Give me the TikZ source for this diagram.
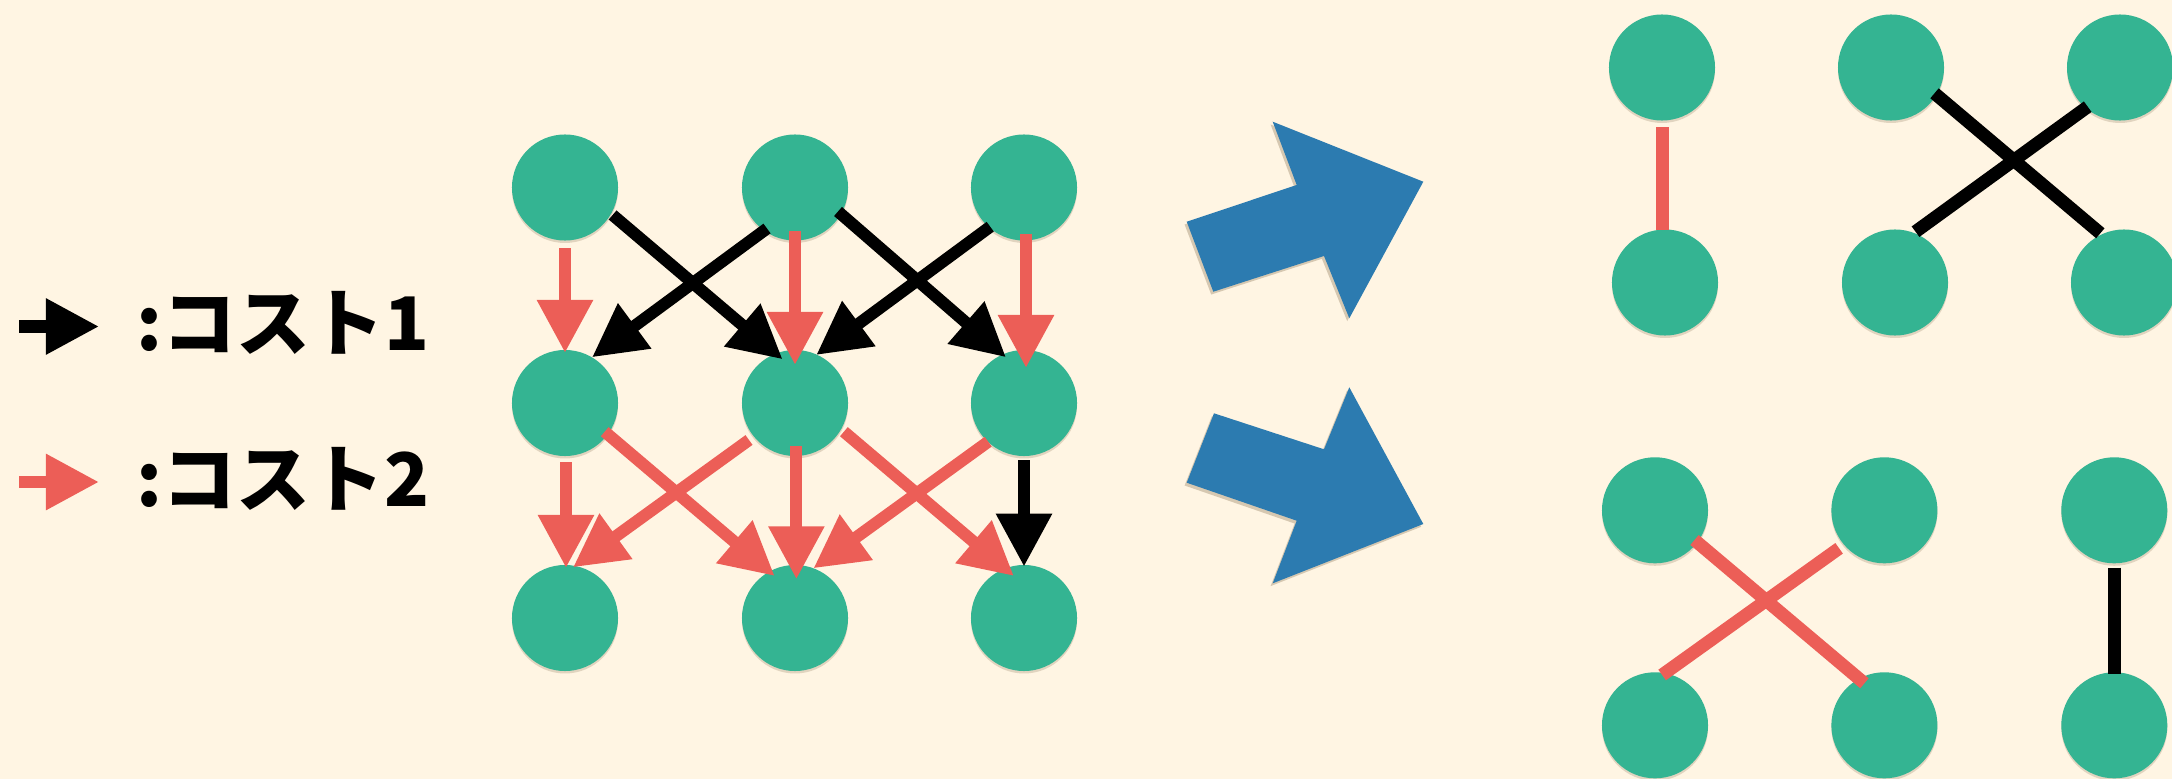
\documentclass[tikz,border=0pt]{standalone}
\usepackage{fontspec}
\newfontfamily\jp{Noto Sans CJK JP}
\usetikzlibrary{arrows.meta,calc}
\definecolor{bg}{HTML}{FFF5E3}
\definecolor{grn}{HTML}{34B492}
\definecolor{rd}{HTML}{EC5E57}
\definecolor{bl}{HTML}{2C7BB0}
\definecolor{shd}{HTML}{7A6040}
\newcommand\legfont{\jp\bfseries\fontsize{21pt}{25pt}\selectfont}
\begin{document}
\begin{tikzpicture}[x=0.01cm,y=-0.01cm,
  dot/.style={circle,fill=grn,minimum size=1.06cm,inner sep=0pt,
    preaction={fill=shd,opacity=0.22,transform canvas={yshift=-0.7pt}}},
  tipstyle/.style={-{Triangle[length=0.53cm,width=0.53cm]}},
  cb/.style={draw=black,color=black,line width=0.12cm,tipstyle},
  cr/.style={draw=rd,color=rd,line width=0.12cm,tipstyle},
  eb/.style={draw=black,line width=0.13cm},
  er/.style={draw=rd,line width=0.13cm},
  legtext/.style={anchor=base west,inner sep=0pt},
  bigarrow/.style={fill=bl,preaction={fill=shd,opacity=0.3,transform canvas={xshift=-0.6pt,yshift=-0.8pt}}}]
\fill[bg] (0,0) rectangle (2172,779);
\useasboundingbox (0,0) rectangle (2172,779);

% legend
\coordinate (lb0) at (19,326.5);
\coordinate (lb1) at (99,326.5);
\coordinate (lr0) at (19,482);
\coordinate (lr1) at (99,482);
\draw[cb] (lb0) -- (lb1);
\draw[cr] (lr0) -- (lr1);
\node[legtext] (t1) at (136,350.7) {\legfont :コスト1};
\node[legtext] (t2) at (136,506) {\legfont :コスト2};

% grid
\node[dot] (a11) at (565,187.5) {};
\node[dot] (a12) at (795,187.5) {};
\node[dot] (a13) at (1024,187.5) {};
\node[dot] (a21) at (565,403) {};
\node[dot] (a22) at (795,403) {};
\node[dot] (a23) at (1024,403) {};
\node[dot] (a31) at (565,618) {};
\node[dot] (a32) at (795,618) {};
\node[dot] (a33) at (1024,618) {};

\draw[cr] ($(a11)+(0,61)$) -- ($(a21)+(0,-50)$);
\draw[cr] ($(a12)+(0,44)$) -- ($(a22)+(0,-38)$);
\draw[cr] ($(a13)+(2,47)$) -- ($(a23)+(2,-35)$);
\draw[cb] ($(a11)+(47.6,27.5)$) -- ($(a22)+(-12.4,-43.7)$);
\draw[cb] ($(a12)+(-28,41)$) -- ($(a21)+(27,-45.7)$);
\draw[cb] ($(a12)+(43,24)$) -- ($(a23)+(-18,-45.7)$);
\draw[cb] ($(a13)+(-33.8,39.2)$) -- ($(a22)+(21.2,-48)$);
\draw[cr] ($(a21)+(1,59)$) -- ($(a31)+(1,-50)$);
\draw[cr] ($(a21)+(39.7,28.7)$) -- ($(a32)+(-20.3,-42)$);
\draw[cr] ($(a22)+(-46,37)$) -- ($(a31)+(8,-50.7)$);
\draw[cr] ($(a22)+(1.4,43)$) -- ($(a32)+(1.4,-38.7)$);
\draw[cr] ($(a22)+(48.9,28.7)$) -- ($(a33)+(-10.1,-42)$);
\draw[cr] ($(a23)+(-35.8,38.7)$) -- ($(a32)+(18.4,-49.7)$);
\draw[cb] ($(a23)+(0,57)$) -- ($(a33)+(0,-51.3)$);

% big blue arrows
\path[bigarrow] (1186.7,221.7) -- (1296.7,185) -- (1272.7,121.7) -- (1423.3,181.7)
  -- (1349.3,318.3) -- (1324,256) -- (1213.3,291.7) -- cycle;
\path[bigarrow] (1186.7,482.7) -- (1214,413.3) -- (1324,449.3) -- (1349.3,387.3)
  -- (1423.3,524) -- (1272.7,583.3) -- (1296.7,520.7) -- cycle;

% right, top
\node[dot] (p1) at (1662,67.5) {};
\node[dot] (p2) at (1665,282.5) {};
\node[dot] (q1) at (1891,67.5) {};
\node[dot] (q2) at (2120,67.5) {};
\node[dot] (q3) at (1895,282.5) {};
\node[dot] (q4) at (2124,282.5) {};
\draw[er] ($(p1)+(0,60)$) -- ($(p2)+(-3,-52.5)$);
\draw[eb] ($(q1)+(43.5,25.8)$) -- ($(q4)+(-23.7,-49.2)$);
\draw[eb] ($(q2)+(-32.3,39.2)$) -- ($(q3)+(20.5,-50.8)$);

% right, bottom
\node[dot] (s1) at (1655,510.3) {};
\node[dot] (s2) at (1884.4,510.3) {};
\node[dot] (s3) at (2114.3,510.3) {};
\node[dot] (s4) at (1655,725.3) {};
\node[dot] (s5) at (1884.4,725.3) {};
\node[dot] (s6) at (2114.3,725.3) {};
\draw[er] ($(s1)+(39.5,29.7)$) -- ($(s5)+(-20,-42)$);
\draw[er] ($(s2)+(-45.3,38)$) -- ($(s4)+(7.1,-50.3)$);
\draw[eb] ($(s3)+(0,57.4)$) -- ($(s6)+(0,-51.3)$);
\end{tikzpicture}
\end{document}
